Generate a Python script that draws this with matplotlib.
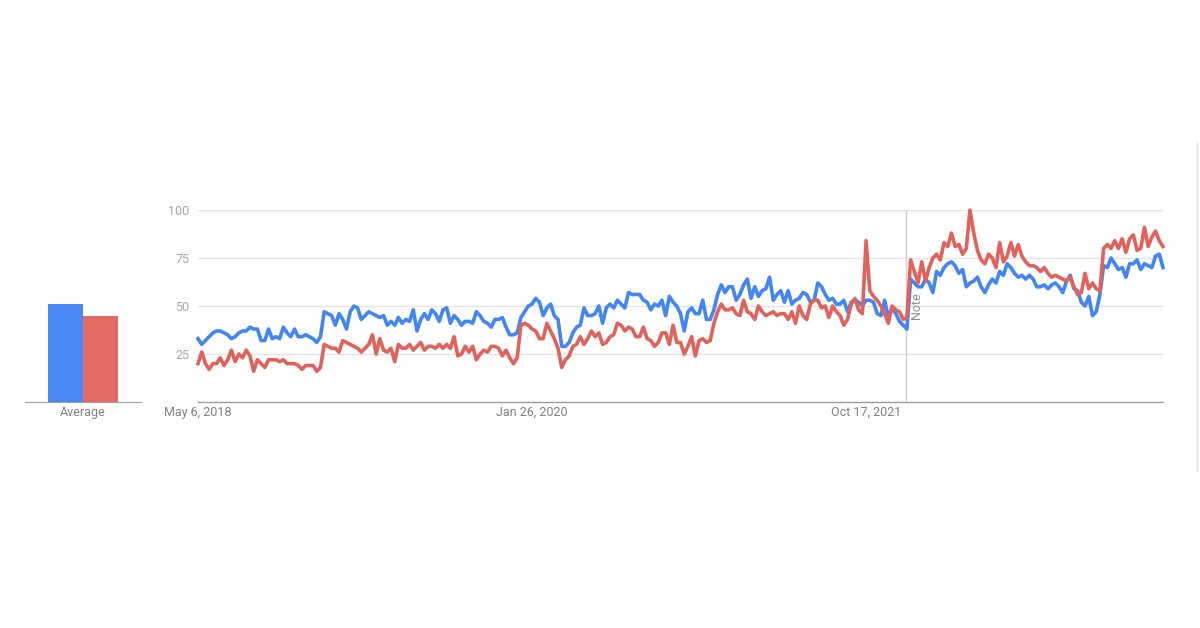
"""Google Trends style comparison: weekly interest, two search terms, 5 years."""
import matplotlib
matplotlib.use("Agg")
import matplotlib.pyplot as plt
from matplotlib.lines import Line2D
import pandas as pd

plt.rcParams["font.family"] = ["Roboto", "DejaVu Sans"]

BLUE, RED = "#4285f4", "#e0625a"
BAR_BLUE, BAR_RED = "#4a89f3", "#e46a64"
GRID, AXIS, TXT = "#e3e3e3", "#9e9e9e", "#7a7a7a"

# weekly series, first week May 6, 2018
START = "2018-05-06"
NOTE_DATE = "2022-01-01"
TICK_DATES = ["2018-05-06", "2020-01-26", "2021-10-17"]
TICK_LABELS = ["May 6, 2018", "Jan 26, 2020", "Oct 17, 2021"]

blue = [
    33, 30, 32, 34, 36, 37, 37, 36, 35, 33,
    34, 36, 37, 37, 39, 38, 38, 32, 32, 38,
    33, 34, 33, 39, 36, 34, 38, 34, 34, 35,
    34, 33, 31, 34, 47, 46, 45, 40, 46, 43,
    38, 47, 50, 49, 43, 45, 47, 46, 45, 44,
    45, 40, 42, 40, 44, 41, 43, 42, 48, 37,
    43, 46, 43, 48, 46, 42, 48, 49, 41, 45,
    43, 40, 42, 42, 41, 47, 45, 42, 41, 39,
    43, 43, 44, 39, 35, 35, 36, 44, 47, 50,
    51, 54, 52, 45, 49, 51, 45, 43, 29, 29,
    31, 36, 39, 40, 49, 45, 45, 46, 50, 41,
    49, 51, 49, 53, 51, 49, 57, 56, 56, 56,
    53, 52, 48, 51, 50, 53, 45, 55, 52, 50,
    46, 37, 47, 49, 46, 46, 53, 43, 43, 48,
    56, 61, 57, 60, 60, 53, 56, 61, 64, 54,
    60, 55, 58, 59, 65, 53, 56, 58, 52, 58,
    51, 53, 54, 57, 56, 52, 53, 62, 60, 56,
    53, 54, 51, 51, 53, 47, 52, 53, 52, 50,
    53, 53, 52, 46, 45, 53, 44, 49, 46, 42,
    40, 38, 64, 62, 60, 60, 64, 62, 57, 68,
    66, 70, 72, 73, 71, 67, 69, 60, 62, 63,
    65, 60, 57, 61, 64, 62, 68, 66, 72, 70,
    67, 65, 66, 64, 66, 64, 60, 60, 61, 59,
    61, 62, 60, 57, 63, 66, 59, 58, 52, 50,
    55, 45, 47, 56, 71, 70, 75, 72, 69, 70,
    65, 72, 72, 74, 69, 72, 71, 70, 76, 77, 70,
]

red = [
    20, 26, 20, 17, 20, 20, 23, 19, 22, 27,
    21, 25, 23, 27, 24, 16, 22, 20, 18, 22,
    22, 22, 21, 22, 20, 20, 20, 19, 17, 19,
    19, 19, 16, 18, 30, 29, 28, 28, 26, 32,
    31, 30, 29, 28, 26, 28, 30, 35, 25, 33,
    27, 26, 28, 21, 30, 28, 28, 30, 27, 29,
    31, 27, 29, 29, 28, 30, 28, 30, 28, 34,
    24, 25, 29, 26, 29, 22, 25, 27, 26, 29,
    29, 28, 24, 27, 23, 20, 23, 40, 41, 40,
    38, 37, 33, 33, 41, 37, 33, 28, 18, 22,
    24, 29, 30, 34, 30, 33, 37, 34, 36, 30,
    31, 34, 35, 41, 40, 37, 39, 38, 34, 34,
    39, 33, 32, 29, 31, 36, 36, 30, 40, 31,
    31, 25, 29, 34, 24, 32, 33, 31, 32, 41,
    47, 51, 48, 48, 49, 46, 45, 53, 47, 46,
    43, 50, 47, 45, 46, 47, 45, 46, 46, 43,
    47, 41, 50, 45, 43, 51, 53, 53, 49, 50,
    44, 50, 47, 45, 40, 43, 51, 54, 48, 46,
    84, 58, 55, 53, 50, 46, 41, 50, 48, 47,
    43, 44, 74, 68, 62, 73, 63, 70, 75, 77,
    74, 83, 81, 88, 81, 82, 77, 80, 100, 88,
    79, 74, 72, 77, 75, 70, 83, 73, 76, 83,
    76, 82, 76, 73, 71, 71, 70, 68, 70, 67,
    65, 66, 65, 64, 63, 65, 60, 56, 57, 67,
    59, 62, 59, 58, 80, 82, 80, 84, 80, 85,
    78, 85, 87, 79, 80, 91, 81, 86, 89, 84, 81,
]

avg_labels = ["Average"]
avg_blue, avg_red = 51, 45

W, H = 1200, 628
fig = plt.figure(figsize=(W / 100, H / 100), dpi=100)
fig.patch.set_facecolor("white")

# --- main time series panel
weeks = pd.date_range(START, periods=len(blue), freq="7D")
ax = fig.add_axes([198 / W, 1 - 402 / H, (1163 - 198) / W, 192 / H])
ax.set_ylim(0, 100)
ax.set_xlim(weeks[0], weeks[-1])
for s in ["top", "right", "left"]:
    ax.spines[s].set_visible(False)
ax.spines["bottom"].set_color(AXIS)
ax.spines["bottom"].set_linewidth(1)
ax.set_yticks([25, 50, 75, 100])
ax.yaxis.grid(True, color=GRID, lw=1)
ax.set_axisbelow(True)
ax.tick_params(axis="y", length=0, pad=6, labelsize=9, labelcolor="#a6a6a6")
ax.set_xticks(pd.to_datetime(TICK_DATES))
ax.set_xticklabels(TICK_LABELS)
ax.tick_params(axis="x", length=0, pad=3, labelsize=9, labelcolor="#808080")

note = pd.Timestamp(NOTE_DATE)
ax.axvline(note, color="#cfcfcf", lw=1, zorder=1)
ax.text(note + pd.Timedelta(days=6), 50, "Note", rotation=90, ha="left",
        va="center", fontsize=9, color="#8f8f8f")

ax.plot(weeks, blue, color=BLUE, lw=2.6, solid_joinstyle="round", clip_on=False, zorder=3)
ax.plot(weeks, red, color=RED, lw=2.6, solid_joinstyle="round", clip_on=False, zorder=4)

# --- average bars on the left
bx = fig.add_axes([25 / W, 1 - 402 / H, 116 / W, 192 / H])
bx.set_ylim(0, 100)
bx.set_xlim(-1.157, 2.157)
bx.bar([0], [avg_blue], width=1, color=BAR_BLUE)
bx.bar([1], [avg_red], width=1, color=BAR_RED)
for s in ["top", "right", "left"]:
    bx.spines[s].set_visible(False)
bx.spines["bottom"].set_color(AXIS)
bx.set_yticks([])
bx.set_xticks([0.5])
bx.set_xticklabels(avg_labels)
bx.tick_params(axis="x", length=0, pad=3, labelsize=9, labelcolor="#808080")

# faint card edge on the right
fig.add_artist(Line2D([1197 / W, 1197 / W], [1 - 470 / H, 1 - 143 / H],
                      color="#ececec", lw=2))

fig.savefig("out.png", dpi=100)
